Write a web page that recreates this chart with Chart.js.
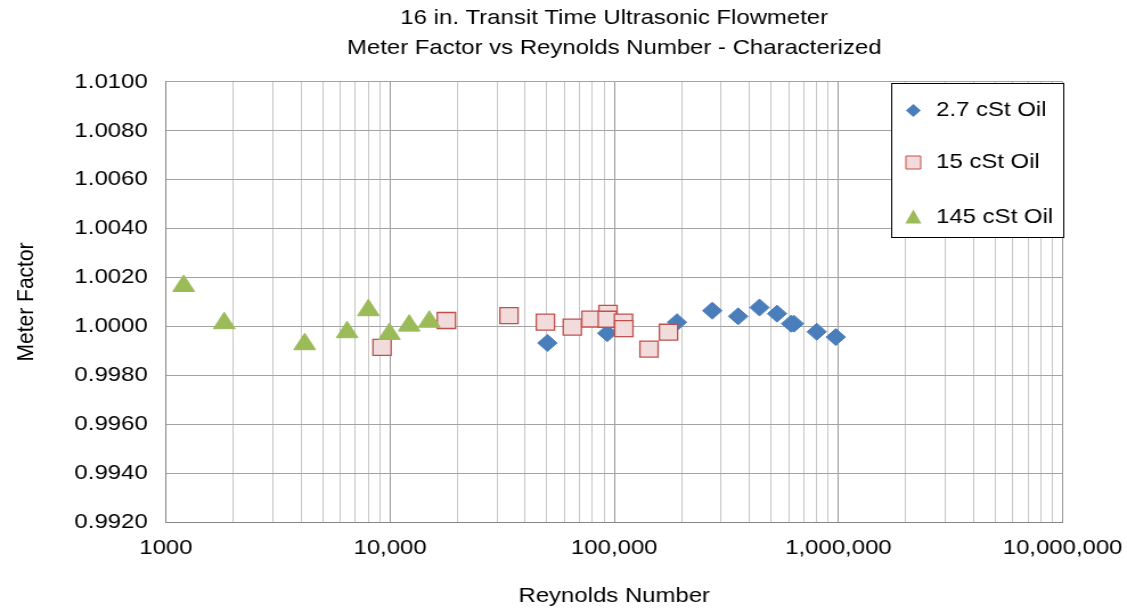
<!DOCTYPE html>
<html>
<head>
<meta charset="utf-8">
<script src="https://cdn.jsdelivr.net/npm/chart.js@4/dist/chart.umd.min.js"></script>
<style>
html,body{margin:0;padding:0;background:#fff;overflow:hidden;}
#wrap{width:989px;height:614px;transform:scaleX(1.1395);transform-origin:0 0;}
canvas{display:block;}
</style>
</head>
<body>
<div id="wrap"><canvas id="c" width="989" height="614"></canvas></div>
<script>
// ---- data ----
const titleLines = ['16 in. Transit Time Ultrasonic Flowmeter', 'Meter Factor vs Reynolds Number - Characterized'];
const seriesLabels = ['2.7 cSt Oil', '15 cSt Oil', '145 cSt Oil'];

const oil27X = [50300, 93000, 190500, 273600, 357000, 444500, 532000, 615000, 633000, 800000, 973000];
const oil27Y = [0.99932, 0.99972, 1.00017, 1.00064, 1.00041, 1.00077, 1.00052, 1.00011, 1.00011, 0.99978, 0.99956];

const oil15X = [9210, 17830, 33900, 49300, 65000, 78700, 93800, 93100, 110000, 110400, 142900, 174600];
const oil15Y = [0.99914, 1.00024, 1.00044, 1.00017, 0.99997, 1.00030, 1.00053, 1.00029, 1.00017, 0.99991, 0.99907, 0.99976];

const oil145X = [1200, 1820, 4160, 6430, 8000, 9930, 12170, 14960];
const oil145Y = [1.00165, 1.00013, 0.99927, 0.99976, 1.00066, 0.99969, 1.00003, 1.00019];

const xDecades = [1000, 10000, 100000, 1000000, 10000000];
const xTickLabels = ['1000', '10,000', '100,000', '1,000,000', '10,000,000'];
const yTickValues = [0.992, 0.994, 0.996, 0.998, 1.000, 1.002, 1.004, 1.006, 1.008, 1.010];
const yTickLabels = ['0.9920', '0.9940', '0.9960', '0.9980', '1.0000', '1.0020', '1.0040', '1.0060', '1.0080', '1.0100'];

// ---- helpers ----
const FONT = '"Liberation Sans", Arial, Helvetica, sans-serif';
const TXT = '#000000';
const pts = (xs, ys) => xs.map((x, i) => ({x: x, y: ys[i]}));
const isDecade = v => xDecades.some(d => Math.abs(v - d) < d * 1e-6);
const xGridValues = [];
xDecades.forEach((d, i) => {
  xGridValues.push(d);
  if (i < xDecades.length - 1) for (let m = 2; m <= 9; m++) xGridValues.push(d * m);
});

const markerStyles = [
  {style: 'diamond', fill: '#4a7ebb', stroke: '#4a7ebb'},
  {style: 'square', fill: '#f2dcdb', stroke: '#c0504d'},
  {style: 'triangle', fill: '#9bbb59', stroke: '#9bbb59'}
];

function drawLegendMarker(ctx, kind, x, y) {
  ctx.save();
  ctx.fillStyle = kind.fill;
  ctx.strokeStyle = kind.stroke;
  ctx.lineWidth = 1;
  ctx.beginPath();
  if (kind.style === 'diamond') {
    ctx.moveTo(x, y - 6.5); ctx.lineTo(x + 6.5, y); ctx.lineTo(x, y + 6.5); ctx.lineTo(x - 6.5, y); ctx.closePath();
    ctx.fill();
  } else if (kind.style === 'square') {
    ctx.rect(x - 6.5, y - 6.5, 13, 13);
    ctx.fill(); ctx.stroke();
  } else {
    ctx.moveTo(x, y - 8); ctx.lineTo(x + 7, y + 6); ctx.lineTo(x - 7, y + 6); ctx.closePath();
    ctx.fill();
  }
  ctx.restore();
}

const boxLegend = {
  id: 'boxLegend',
  afterDatasetsDraw(chart) {
    const ctx = chart.ctx;
    const a = chart.chartArea;
    const L = Math.round(a.right - 151) + 0.5, T = Math.round(a.top + 1) + 0.5;
    const R = Math.round(a.right) + 0.5, B = T + 154;
    ctx.save();
    ctx.fillStyle = '#ffffff';
    ctx.fillRect(L, T, R - L, B - T);
    ctx.strokeStyle = '#000000';
    ctx.lineWidth = 1;
    ctx.strokeRect(L, T, R - L, B - T);
    const rows = [27, 79, 134];
    ctx.font = '21px ' + FONT;
    ctx.textBaseline = 'middle';
    ctx.textAlign = 'left';
    chart.data.datasets.forEach((ds, i) => {
      const y = T + rows[i];
      drawLegendMarker(ctx, markerStyles[i], L + 19, y);
      ctx.fillStyle = TXT;
      ctx.fillText(ds.label, L + 39, y);
    });
    ctx.restore();
  }
};

Chart.defaults.font.family = FONT;
Chart.defaults.color = TXT;

new Chart(document.getElementById('c'), {
  type: 'scatter',
  data: {
    datasets: [
      {label: seriesLabels[0], data: pts(oil27X, oil27Y), pointStyle: 'rectRot', pointRadius: 8.5, pointHoverRadius: 8.5,
       backgroundColor: '#4a7ebb', borderColor: '#4a7ebb', borderWidth: 1, order: 3},
      {label: seriesLabels[1], data: pts(oil15X, oil15Y), pointStyle: 'rect', pointRadius: 11.3, pointHoverRadius: 11.3,
       backgroundColor: '#f2dcdb', borderColor: '#c0504d', borderWidth: 1.3, order: 2},
      {label: seriesLabels[2], data: pts(oil145X, oil145Y), pointStyle: 'triangle', pointRadius: 11, pointHoverRadius: 11,
       backgroundColor: '#9bbb59', borderColor: '#9bbb59', borderWidth: 1, order: 1}
    ]
  },
  options: {
    responsive: false,
    animation: false,
    devicePixelRatio: 1,
    layout: {padding: {left: 0, right: 56.5, top: 0, bottom: 0}},
    plugins: {
      legend: {display: false},
      tooltip: {enabled: false},
      title: {
        display: true,
        fullSize: false,
        text: titleLines,
        color: TXT,
        font: {size: 21, weight: 'normal', lineHeight: 1.4},
        padding: {top: 4, bottom: 19}
      }
    },
    scales: {
      x: {
        type: 'logarithmic',
        min: 1000, max: 10000000,
        afterBuildTicks: s => { s.ticks = xGridValues.map(v => ({value: v})); },
        afterFit: s => { s.height = 92; s.paddingLeft = 0; s.paddingRight = 0; },
        ticks: {
          autoSkip: false, maxRotation: 0, minRotation: 0, padding: 14,
          font: {size: 21}, color: TXT,
          callback: v => { const i = xDecades.findIndex(d => Math.abs(v - d) < d * 1e-6); return i >= 0 ? xTickLabels[i] : ''; }
        },
        grid: {
          drawTicks: false, lineWidth: 1,
          color: c => (c.tick && isDecade(c.tick.value)) ? '#999999' : '#c6c6c6'
        },
        border: {display: true, color: '#868686', width: 1},
        title: {display: true, text: 'Reynolds Number', color: TXT, font: {size: 21}, padding: {top: 0, bottom: 5}}
      },
      y: {
        min: 0.992, max: 1.010,
        afterBuildTicks: s => { s.ticks = yTickValues.map(v => ({value: v})); },
        afterFit: s => { s.width = 145.6; },
        ticks: {
          padding: 16, font: {size: 21}, color: TXT,
          callback: (v, i) => yTickLabels[i]
        },
        grid: {drawTicks: false, lineWidth: 1, color: '#a3a3a3'},
        border: {display: true, color: '#868686', width: 1},
        title: {display: true, text: 'Meter Factor', color: TXT, font: {size: 21}, padding: {top: 11, bottom: 0}}
      }
    }
  },
  plugins: [boxLegend]
});
</script>
</body>
</html>
